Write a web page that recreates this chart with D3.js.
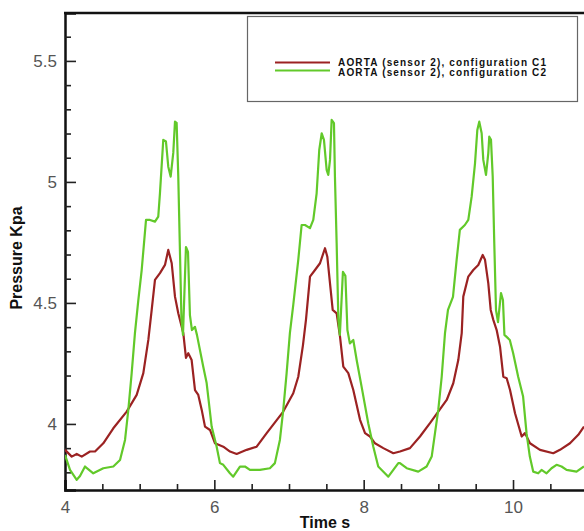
<!DOCTYPE html>
<html>
<head>
  <script src="https://d3js.org/d3.v7.min.js"></script>
  <style>
    body { margin: 0; background: #fff; }
    svg { display: block; }
  </style>
</head>
<body>
  <div id="chart"></div>

  <script>
    // series C1 (dark red) and C2 (green): [time s, pressure kPa]
    var seriesC1 = [
      [4.000,3.893],[4.090,3.865],[4.157,3.876],[4.224,3.865],[4.335,3.886],[4.402,3.886],[4.513,3.920],
      [4.647,3.982],[4.826,4.051],[4.960,4.120],[5.049,4.210],[5.116,4.347],[5.161,4.471],[5.205,4.595],
      [5.272,4.623],[5.339,4.657],[5.383,4.719],[5.429,4.664],[5.473,4.526],[5.517,4.457],[5.584,4.376],
      [5.620,4.273],[5.651,4.292],[5.696,4.264],[5.741,4.140],[5.785,4.120],[5.831,4.058],[5.875,3.989],
      [5.942,3.975],[6.009,3.920],[6.120,3.906],[6.210,3.886],[6.299,3.876],[6.433,3.893],[6.567,3.906],
      [6.701,3.962],[6.923,4.051],[7.057,4.127],[7.124,4.195],[7.187,4.326],[7.227,4.430],[7.281,4.609],
      [7.348,4.636],[7.415,4.664],[7.482,4.726],[7.513,4.691],[7.549,4.581],[7.585,4.471],[7.638,4.457],
      [7.683,4.361],[7.727,4.237],[7.794,4.210],[7.861,4.140],[7.951,4.017],[8.018,3.962],[8.085,3.948],
      [8.151,3.920],[8.263,3.900],[8.397,3.879],[8.486,3.886],[8.620,3.900],[8.754,3.948],[8.888,4.003],
      [8.999,4.051],[9.112,4.099],[9.200,4.168],[9.267,4.264],[9.313,4.375],[9.334,4.526],[9.401,4.609],
      [9.468,4.636],[9.535,4.657],[9.594,4.698],[9.625,4.678],[9.669,4.581],[9.701,4.471],[9.736,4.430],
      [9.781,4.388],[9.826,4.319],[9.870,4.195],[9.915,4.189],[9.960,4.140],[10.027,4.044],[10.116,3.948],
      [10.160,3.962],[10.227,3.920],[10.361,3.893],[10.539,3.879],[10.629,3.893],[10.763,3.920],
      [10.874,3.955],[10.950,3.989]
    ];

    var seriesC2 = [
      [4.000,3.872],[4.067,3.810],[4.157,3.769],[4.201,3.785],[4.268,3.824],[4.379,3.796],[4.513,3.817],
      [4.647,3.824],[4.737,3.851],[4.804,3.934],[4.848,4.058],[4.893,4.210],[4.937,4.376],[4.982,4.512],
      [5.027,4.636],[5.085,4.843],[5.138,4.843],[5.205,4.836],[5.249,4.857],[5.272,4.955],[5.316,5.174],
      [5.352,5.167],[5.383,5.063],[5.415,5.022],[5.450,5.120],[5.473,5.249],[5.495,5.244],[5.517,5.022],
      [5.530,4.843],[5.560,4.430],[5.580,4.368],[5.620,4.731],[5.647,4.711],[5.673,4.450],[5.700,4.388],
      [5.741,4.401],[5.767,4.368],[5.851,4.237],[5.897,4.169],[5.964,3.989],[6.031,3.906],[6.075,3.838],
      [6.120,3.831],[6.209,3.796],[6.253,3.782],[6.343,3.824],[6.410,3.824],[6.477,3.810],[6.610,3.810],
      [6.744,3.817],[6.811,3.838],[6.878,3.934],[6.923,4.058],[6.968,4.210],[7.012,4.376],[7.057,4.492],
      [7.124,4.678],[7.169,4.822],[7.214,4.822],[7.281,4.809],[7.325,4.843],[7.370,4.953],[7.405,5.132],
      [7.438,5.201],[7.468,5.174],[7.504,5.050],[7.526,5.029],[7.549,5.091],[7.571,5.256],[7.602,5.243],
      [7.615,5.022],[7.638,4.747],[7.661,4.430],[7.681,4.368],[7.722,4.628],[7.755,4.612],[7.782,4.388],
      [7.815,4.333],[7.861,4.347],[7.906,4.264],[7.972,4.154],[8.061,4.003],[8.129,3.906],[8.195,3.824],
      [8.241,3.810],[8.330,3.782],[8.397,3.810],[8.464,3.838],[8.486,3.838],[8.576,3.817],[8.731,3.803],
      [8.843,3.824],[8.911,3.865],[8.955,3.962],[8.999,4.058],[9.045,4.195],[9.089,4.375],[9.129,4.471],
      [9.196,4.525],[9.245,4.678],[9.288,4.802],[9.355,4.822],[9.401,4.843],[9.446,4.939],[9.491,5.077],
      [9.522,5.215],[9.548,5.249],[9.580,5.201],[9.602,5.091],[9.638,5.029],[9.669,5.119],[9.682,5.187],
      [9.705,5.174],[9.728,5.022],[9.749,4.747],[9.772,4.471],[9.799,4.421],[9.839,4.541],[9.865,4.512],
      [9.885,4.368],[9.957,4.347],[10.002,4.292],[10.069,4.195],[10.135,4.113],[10.181,3.962],[10.225,3.865],
      [10.270,3.803],[10.337,3.796],[10.382,3.810],[10.449,3.796],[10.516,3.817],[10.583,3.831],
      [10.650,3.824],[10.717,3.810],[10.851,3.803],[10.950,3.824]
    ];

    var xTicks = [4, 6, 8, 10];
    var yTicks = [4, 4.5, 5, 5.5];
    var legendLabels = ['AORTA (sensor 2), configuration C1', 'AORTA (sensor 2), configuration C2'];
    var colors = ['#9b2222', '#62c92a'];

    var W = 584, H = 531;
    var plotLeft = 65, plotTop = 13, plotBottom = 490;

    var svg = d3.select('#chart').append('svg')
      .attr('width', W)
      .attr('height', H)
      .style('font-family', '"Liberation Sans", Arial, sans-serif');

    var x = d3.scaleLinear().domain([4, 11]).range([plotLeft, plotLeft + 7 * 74.67]);
    var y = d3.scaleLinear().domain([3.727, 5.698]).range([plotBottom, plotTop]);

    svg.append('clipPath').attr('id', 'plot')
      .append('rect')
      .attr('x', plotLeft).attr('y', plotTop)
      .attr('width', W - plotLeft).attr('height', plotBottom - plotTop);

    // minor ticks
    var xMinor = d3.range(4, 11.01, 0.5).filter(function(d) { return xTicks.indexOf(d) < 0; });
    var yMinor = d3.range(3.8, 5.65, 0.1).map(function(d) { return +d.toFixed(1); })
      .filter(function(d) { return yTicks.indexOf(d) < 0; });

    var xAxis = svg.append('g')
      .attr('transform', 'translate(0,' + plotBottom + ')')
      .call(d3.axisBottom(x).tickValues(xTicks).tickSize(-10).tickPadding(14)
        .tickFormat(d3.format('d')));
    var yAxis = svg.append('g')
      .attr('transform', 'translate(' + plotLeft + ',0)')
      .call(d3.axisLeft(y).tickValues(yTicks).tickSize(-11).tickPadding(8)
        .tickFormat(function(d) { return String(d); }));

    svg.append('g').attr('transform', 'translate(0,' + plotBottom + ')')
      .call(d3.axisBottom(x).tickValues(xMinor).tickSize(-6).tickFormat(''))
      .call(function(g) { g.select('.domain').remove(); });
    svg.append('g').attr('transform', 'translate(' + plotLeft + ',0)')
      .call(d3.axisLeft(y).tickValues(yMinor).tickSize(-6).tickFormat(''))
      .call(function(g) { g.select('.domain').remove(); });

    svg.selectAll('.domain').attr('stroke', '#111').attr('stroke-width', 2.5);
    svg.selectAll('.tick line').attr('stroke', '#222').attr('stroke-width', 1.6);
    svg.selectAll('.tick text').attr('font-size', 17).attr('fill', '#555')
      .attr('font-family', '"Liberation Sans", Arial, sans-serif');
    xAxis.selectAll('.tick text').attr('dy', '0.5em');

    // top frame line
    svg.append('line')
      .attr('x1', plotLeft - 1).attr('x2', W)
      .attr('y1', plotTop).attr('y2', plotTop)
      .attr('stroke', '#111').attr('stroke-width', 2.5);

    var line = d3.line()
      .x(function(d) { return x(d[0]); })
      .y(function(d) { return y(d[1]); });

    var plot = svg.append('g').attr('clip-path', 'url(#plot)');
    [seriesC1, seriesC2].forEach(function(s, i) {
      plot.append('path')
        .datum(s)
        .attr('d', line)
        .attr('fill', 'none')
        .attr('stroke', colors[i])
        .attr('stroke-width', 2.2)
        .attr('stroke-linejoin', 'round');
    });

    // legend
    var legend = svg.append('g');
    legend.append('rect')
      .attr('x', 247.5).attr('y', 16.5)
      .attr('width', 330).attr('height', 85)
      .attr('fill', '#fff').attr('stroke', '#666').attr('stroke-width', 1.2);
    legendLabels.forEach(function(label, i) {
      var ly = 62.5 + i * 8;
      legend.append('line')
        .attr('x1', 275).attr('x2', 330)
        .attr('y1', ly).attr('y2', ly)
        .attr('stroke', colors[i]).attr('stroke-width', 2);
      legend.append('text')
        .attr('x', 338).attr('y', 66 + i * 10)
        .attr('font-size', 10).attr('font-weight', 'bold')
        .attr('fill', '#111')
        .attr('textLength', 208)
        .text(label);
    });

    // axis titles
    svg.append('text')
      .attr('x', 325).attr('y', 528)
      .attr('text-anchor', 'middle')
      .attr('font-size', 16).attr('font-weight', 'bold')
      .attr('fill', '#111')
      .text('Time s');

    svg.append('text')
      .attr('transform', 'translate(22,258) rotate(-90)')
      .attr('text-anchor', 'middle')
      .attr('font-size', 16).attr('font-weight', 'bold')
      .attr('fill', '#111')
      .text('Pressure Kpa');
  </script>
</body>
</html>
